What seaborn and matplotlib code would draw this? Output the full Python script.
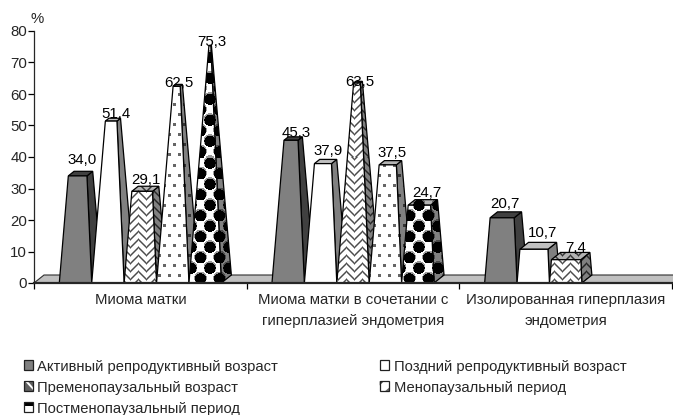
import numpy as np
import pandas as pd
import seaborn as sns
import matplotlib
matplotlib.use("Agg")
import matplotlib.pyplot as plt
from matplotlib.patches import Polygon, Rectangle, Patch
from matplotlib.legend_handler import HandlerBase

# Values
groups = ["Миома матки",
          "Миома матки в сочетании с\nгиперплазией эндометрия",
          "Изолированная гиперплазия\nэндометрия"]
series = ["Активный репродуктивный возраст",
          "Поздний репродуктивный возраст",
          "Пременопаузальный возраст",
          "Менопаузальный период",
          "Постменопаузальный период"]
active = [34.0, 45.3, 20.7]
late = [51.4, 37.9, 10.7]
premeno = [29.1, 63.5, 7.4]
meno = [62.5, 37.5, np.nan]
postmeno = [75.3, 24.7, np.nan]
y_ticks = [0, 10, 20, 30, 40, 50, 60, 70, 80]

# Hand-placed label nudges in pixels, one row per series
label_dx = [[6.8, 7.6, 4], [8, 8, 9.7], [5.7, 7, 10], [6, 7, 0], [6.7, 8.7, 0]]
label_dy = [[16, 7, 14], [7, 13, 16], [11, 1.3, 11.7], [3.4, 12, 0], [4, 12.5, 0]]

W, H = 673, 415
L, R, B, T = 34, 672, 283, 31
sns.set_style("ticks")
plt.rcParams["font.family"] = ["Liberation Sans", "DejaVu Sans"]

fig = plt.figure(figsize=(W / 100, H / 100), dpi=100)
ax = fig.add_axes([L / W, 1 - B / H, (R - L) / W, (B - T) / H])

df = pd.DataFrame({
    "group": np.repeat(groups, 5),
    "series": np.tile(series, 3),
    "value": np.ravel(np.column_stack([active, late, premeno, meno, postmeno])),
})
sns.barplot(data=df, x="group", y="value", hue="series", order=groups,
            hue_order=series, width=0.762, gap=0, dodge=True, legend=False, ax=ax)

aw, ah = R - L, B - T
ax.set_xlim(-0.5, 2.5)
ax.set_ylim(0, 80)
DX = 10 / (aw / 3)
DY = 8 / (ah / 80)
TOP = 80.0


def tiled(tile):
    ny = ah // tile.shape[0] + 1
    nx = aw // tile.shape[1] + 1
    return np.tile(tile, (ny, nx))[:ah, :aw]


def disc(tile, cx, cy, r, value):
    yy, xx = np.mgrid[0:tile.shape[0], 0:tile.shape[1]]
    h, w = tile.shape
    dx = np.minimum(np.abs(xx - cx), w - np.abs(xx - cx))
    dy = np.minimum(np.abs(yy - cy), h - np.abs(yy - cy))
    tile[dx ** 2 + dy ** 2 <= r ** 2] = value


def herringbone_tile():
    # Interlocking zigzag, stripes softened toward grey
    t = np.ones((16, 16))
    for y in range(16):
        for x in range(16):
            direction = 1 if x < 8 else -1
            phase = (y + direction * x) % 8
            if phase == 0:
                t[y, x] = 0.3
            elif phase in (1, 7):
                t[y, x] = 0.62
    return t


def dots_tile():
    t = np.ones((20, 20))
    for cx, cy in [(5, 4), (15, 4), (0, 14), (10, 14)]:
        disc(t, cx, cy, 1.6, 0.4)
    return t


def balls_tile():
    t = np.ones((21, 19))
    for cx, cy in [(4.5, 5), (14, 15.5)]:
        disc(t, cx, cy, 6.4, 0.6)
        disc(t, cx, cy + 0.9, 5.6, 0.0)
    return t


textures = {2: tiled(herringbone_tile()), 3: tiled(dots_tile()), 4: tiled(balls_tile())}
flat = {0: ("#808080", "#404040", "#404040"), 1: ("#ffffff", "#808080", "#c0c0c0")}


def textured(poly_xy, image, zorder):
    poly = Polygon(poly_xy, closed=True, transform=ax.transData)
    im = ax.imshow(image, extent=(-0.5, 2.5, 0, 80), origin="upper", aspect="auto",
                   cmap="gray", vmin=0, vmax=1, interpolation="nearest", zorder=zorder)
    im.set_clip_path(poly)
    ax.add_patch(Polygon(poly_xy, closed=True, fill=False, ec="black", lw=0.9, zorder=zorder + 0.01))


# Floor of the 3D plot
ax.add_patch(Polygon([(-0.5, 0), (2.5 + DX, 0), (2.5 + 2 * DX, DY), (-0.5 + DX, DY)], closed=True,
                     fc="#c0c0c0", ec="#303030", lw=0.8, clip_on=False, zorder=1))

# Each flat bar becomes a truncated pyramid built from its own position and height
for s, container in enumerate(ax.containers):
    for g, bar in enumerate(container.patches):
        bar.set_visible(False)
        v = bar.get_height()
        if not np.isfinite(v):
            continue
        x0, w = bar.get_x(), bar.get_width()
        t = v / TOP
        apex = x0 + w / 2 + DX / 2
        fl = x0 + t * (apex - x0)
        fr = x0 + w + t * (apex - x0 - w)
        dx_top, dy_top = DX * (1 - t), DY * (1 - t)
        z = 2 + s + g * 10
        front = [(x0, 0), (x0 + w, 0), (fr, v), (fl, v)]
        side = [(x0 + w, 0), (x0 + w + DX, DY), (fr + dx_top, v + dy_top), (fr, v)]
        top = [(fl, v), (fr, v), (fr + dx_top, v + dy_top), (fl + dx_top, v + dy_top)]
        if s in flat:
            fc, sc, tc = flat[s]
            for xy, col, dz in ((side, sc, 0.1), (top, tc, 0.2), (front, fc, 0.3)):
                ax.add_patch(Polygon(xy, closed=True, fc=col, ec="black", lw=0.9,
                                     clip_on=False, zorder=z + dz))
        else:
            textured(side, textures[s] * 0.5, z + 0.1)
            textured(top, textures[s] * 0.7, z + 0.2)
            textured(front, textures[s], z + 0.3)
        ax.annotate(f"{v:.1f}".replace(".", ","), xy=(x0 + w / 2, v),
                    xytext=(label_dx[s][g], label_dy[s][g]), textcoords="offset pixels",
                    ha="center", va="center", fontsize=10.8, color="black", zorder=100,
                    annotation_clip=False)

ax.set_xlim(-0.5, 2.5)
ax.set_ylim(0, 80)
ax.set_xlabel("")
ax.set_ylabel("")
ax.set_yticks(y_ticks)
ax.tick_params(axis="y", length=4, width=0.9, labelsize=10.8, pad=1, color="black")
ax.set_xticks([0, 1, 2])
ax.set_xticklabels(groups, fontsize=10.8, linespacing=1.68)
ax.tick_params(axis="x", which="major", length=0, pad=7)
ax.set_xticks([-0.5, 0.5, 1.5, 2.5], minor=True)
ax.tick_params(axis="x", which="minor", length=4, width=0.9, color="black")
for name in ("top", "right"):
    ax.spines[name].set_visible(False)
ax.spines["left"].set_linewidth(0.9)
ax.spines["bottom"].set_linewidth(1.6)
ax.spines["bottom"].set_zorder(90)
ax.text(37 / W, 1 - 19 / H, "%", transform=fig.transFigure, ha="center", va="center", fontsize=10.8)


class SwatchHandler(HandlerBase):
    """Small legend square with a simplified fill motif."""

    def __init__(self, kind):
        super().__init__()
        self.kind = kind

    def create_artists(self, legend, orig_handle, xdescent, ydescent, width, height, fontsize, trans):
        s = 7
        x, y = 0, (height - s) / 2 + 0.5
        art = []
        base = {0: "#808080"}.get(self.kind, "#ffffff")
        art.append(Rectangle((x, y), s, s, fc=base, ec="none", transform=trans))
        if self.kind == 2:
            art.append(Rectangle((x, y), s, s, fc="#606060", ec="none", transform=trans))
            art.append(Polygon([(x + 1, y + s), (x + 3, y + s), (x + s, y + 2.5), (x + s, y + 0.5)],
                               fc="white", ec="none", transform=trans))
        elif self.kind == 3:
            art.append(Polygon([(x, y + s), (x + 3, y + s), (x, y + 4)], fc="#404040", ec="none", transform=trans))
            art.append(Polygon([(x + s, y), (x + 4, y), (x + s, y + 2.5)], fc="#606060", ec="none", transform=trans))
        elif self.kind == 4:
            art.append(Rectangle((x, y + s * 0.6), s, s * 0.4, fc="black", ec="none", transform=trans))
        art.append(Rectangle((x, y), s, s, fill=False, ec="#202020", lw=0.9, transform=trans))
        return art


handles = [Patch(label=name) for name in series]
order = [0, 2, 4, 1, 3]
leg = fig.legend([handles[i] for i in order], [series[i] for i in order], ncol=2,
                 handler_map={handles[i]: SwatchHandler(i) for i in range(5)},
                 loc="upper left", bbox_to_anchor=(23.5 / W, 1 - 360 / H), frameon=False,
                 fontsize=10.66, handlelength=0.62, handletextpad=0.32, labelspacing=0.47,
                 columnspacing=6.85, borderpad=0, borderaxespad=0)

fig.savefig("out.png", dpi=100)
